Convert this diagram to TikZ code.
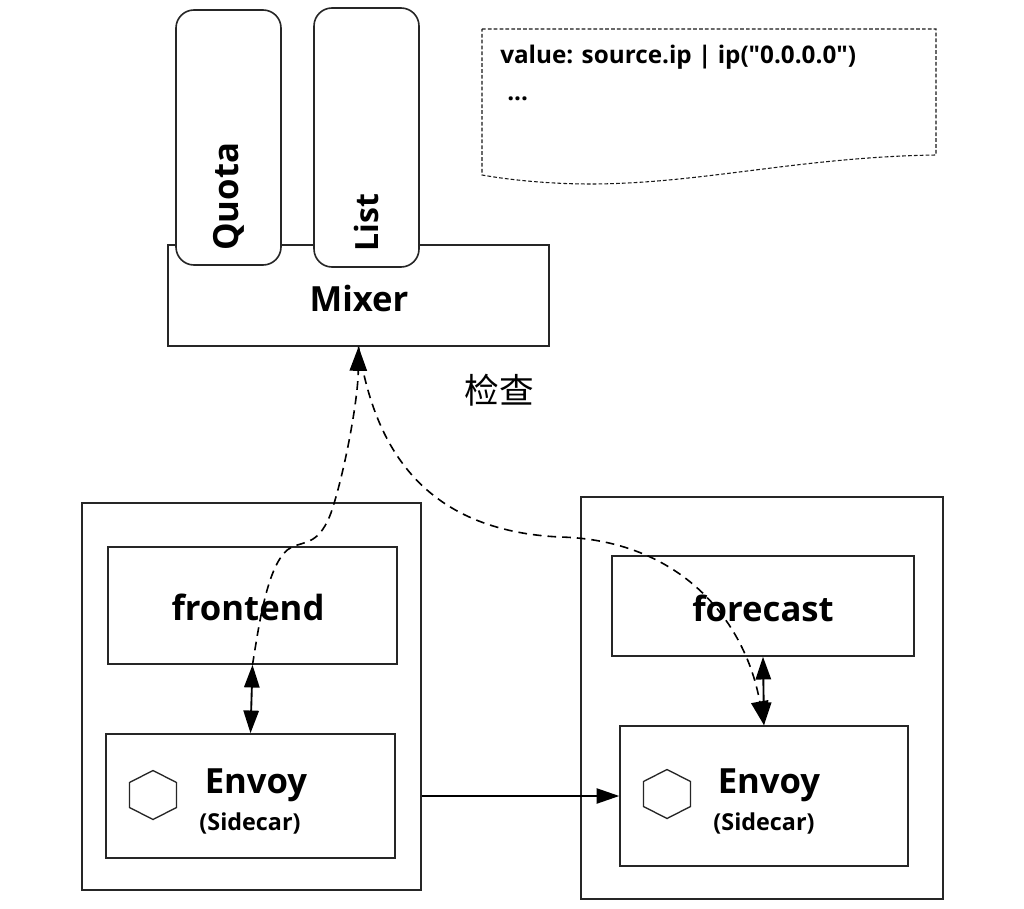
\documentclass[tikz,border=0pt]{standalone}
\usepackage{fontspec}
\setmainfont{Open Sans}
\newfontfamily\notefont{Open Sans}
\newfontfamily\cjk{Noto Sans CJK SC}
\usetikzlibrary{arrows.meta}
\tikzset{
  x=0.75pt,y=-0.75pt,
  boxa/.style={draw=black!85,line width=1.2pt,fill=white,inner sep=0pt,rectangle},
  round box/.style={boxa,rounded corners=13.5pt},
  big/.style={font=\bfseries\fontsize{26}{30}\selectfont,inner sep=0pt},
  small/.style={font=\bfseries\fontsize{17.5}{21}\selectfont,inner sep=0pt},
  notetext/.style={font=\notefont\bfseries\fontsize{18.2}{22}\selectfont,inner sep=0pt,anchor=base west},
  link/.style={line width=1.4pt,{Triangle[length=17pt,width=11.5pt]}-{Triangle[length=17pt,width=11.5pt]}},
  flow/.style={line width=1pt,-{Triangle[length=17pt,width=11.5pt]}},
  dashflow/.style={line width=1.2pt,dash pattern=on 6.5pt off 4.5pt,-{Triangle[length=18pt,width=13pt]}},
  notepath/.style={line width=0.8pt,draw=black!90,dash pattern=on 2.8pt off 1.6pt},
  hexa/.pic={\draw[line width=1pt,draw=black!85] (0,-24.5) -- (23.5,-12.5) -- (23.5,12.5) -- (0,24.5) -- (-23.5,12.5) -- (-23.5,-12.5) -- cycle;}
}
\begin{document}
\begin{tikzpicture}
\useasboundingbox (0,0) rectangle (1024,909);
% Mixer and plug-ins
\node[boxa,minimum width=285.75pt,minimum height=75.75pt] (mixer) at (358.5,295.5) {};
\node[round box,minimum width=78.75pt,minimum height=191.25pt] (quota) at (228.5,137.5) {};
\node[round box,minimum width=78.75pt,minimum height=194.25pt] (list) at (366.5,137.5) {};
\node[big,rotate=90,anchor=west] (quotat) at (229,251) {Quota};
\node[big,rotate=90,anchor=west,font=\bfseries\fontsize{24}{28}\selectfont] (listt) at (366,252) {List};
\node[big] (mixert) at (359,298) {Mixer};
% note
\draw[notepath] (482,29) -- (936,29) -- (936,155)
  .. controls (800,157) and (700,184) .. (590,184)
  .. controls (550,184) and (510,180) .. (482,175) -- cycle;
\node[notetext] (v1) at (500,64) {value: source.ip | ip("0.0.0.0")};
\node[notetext] (v2) at (507,101) {...};
\node[inner sep=0pt,font=\cjk\fontsize{26}{30}\selectfont] (check) at (499,390) {检查};
% left pod
\node[boxa,minimum width=254.25pt,minimum height=290.25pt] (podL) at (251.5,696.5) {};
\node[boxa,minimum width=216.75pt,minimum height=87.75pt] (frontend) at (252.5,605.5) {};
\node[boxa,minimum width=216.75pt,minimum height=93pt] (envoyL) at (250.5,796) {};
\node[big] (frontendt) at (248,607) {frontend};
\pic at (153,795) {hexa};
\node[big] (envoyLt) at (256,785) {Envoy};
\node[small] (sideL) at (250,823) {(Sidecar)};
% right pod
\node[boxa,minimum width=271.5pt,minimum height=301.5pt] (podR) at (762,698) {};
\node[boxa,minimum width=226.5pt,minimum height=75pt] (forecast) at (763,606) {};
\node[boxa,minimum width=216pt,minimum height=105pt] (envoyR) at (764,796) {};
\node[big] (forecastt) at (763,608) {forecast};
\pic at (667,794) {hexa};
\node[big] (envoyRt) at (769,785) {Envoy};
\node[small] (sideR) at (764,823) {(Sidecar)};
% connectors
\draw[link] (frontend.south) -- (envoyL.north);
\draw[link] (forecast.south) -- (envoyR.north);
\draw[flow] (podL.east |- envoyR.west) -- (envoyR.west);
\draw[dashflow] (frontend.south) .. controls (259,625) and (268,558) .. (292,547)
  .. controls (305,541) and (320,545) .. (332,510)
  .. controls (345,470) and (358,400) .. (mixer.south);
\draw[dashflow] (mixer.south) .. controls (372,430) and (410,530) .. (560,537)
  .. controls (680,540) and (745,620) .. (envoyR.north);
\end{tikzpicture}
\end{document}
